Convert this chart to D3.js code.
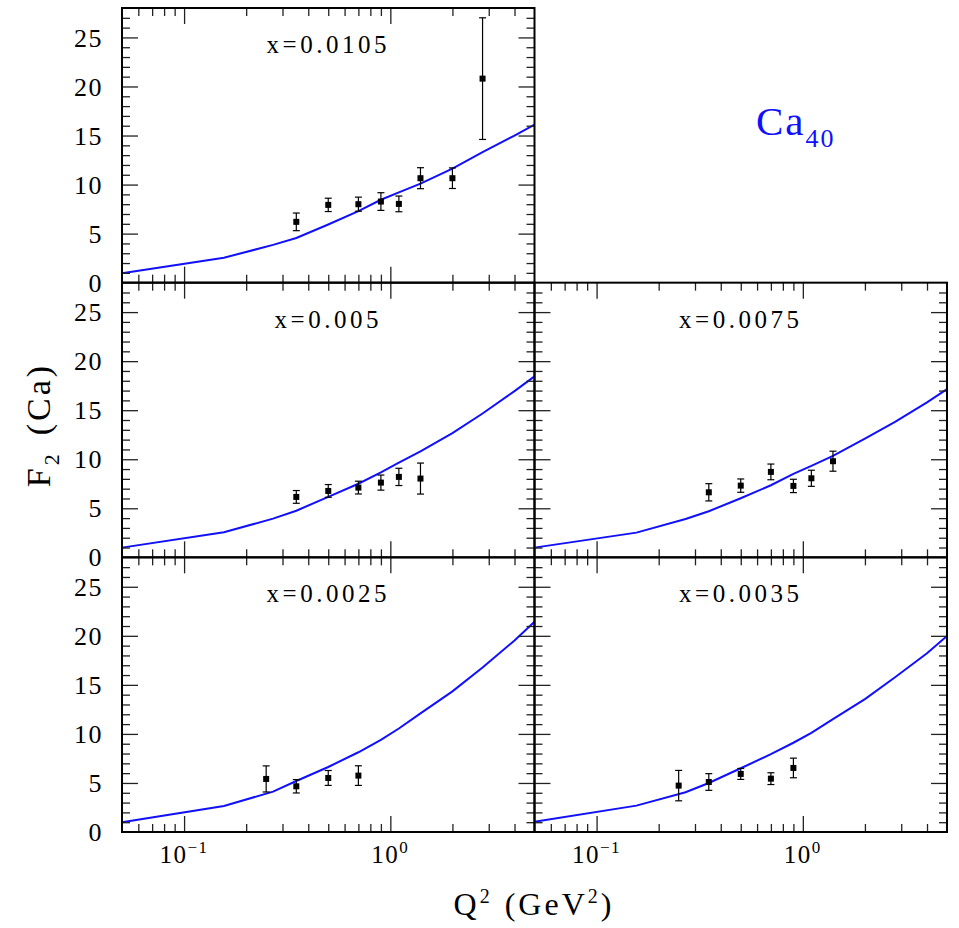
<!DOCTYPE html>
<html>
<head>
<meta charset="utf-8">
<script src="https://cdn.jsdelivr.net/npm/d3@7"></script>
<style>
  body { margin: 0; background: #fff; }
  svg { display: block; }
  text { font-family: "Liberation Serif", serif; fill: #000; }
</style>
</head>
<body>
<svg id="chart"></svg>
<script>
// Q2 points the model curves were read at
let curveQ2 = [0.05, 0.156, 0.27, 0.35, 0.5, 0.7, 0.9, 1.1, 1.4, 2.0, 2.8, 4.0, 5.0]

// x = 0.0105
let q2_0105 = [0.35, 0.5, 0.7, 0.9, 1.1, 1.4, 2.0, 2.8]
let f2_0105 = [6.2, 7.93, 8.0, 8.27, 8.03, 10.65, 10.65, 20.8]
let err_0105 = [0.9, 0.68, 0.72, 0.9, 0.8, 1.07, 1.05, 6.2]
let fit_0105 = [0.95, 2.54, 3.85, 4.55, 5.93, 7.29, 8.45, 9.2, 10.1, 11.63, 13.3, 15.0, 16.1]

// x = 0.005
let q2_005 = [0.35, 0.5, 0.7, 0.9, 1.1, 1.4]
let f2_005 = [6.16, 6.77, 7.11, 7.62, 8.2, 8.03]
let err_005 = [0.65, 0.65, 0.65, 0.77, 0.88, 1.58]
let fit_005 = [0.99, 2.55, 3.95, 4.75, 6.16, 7.5, 8.65, 9.65, 10.8, 12.67, 14.66, 16.95, 18.45]

// x = 0.0075
let q2_0075 = [0.35, 0.5, 0.7, 0.9, 1.1, 1.4]
let f2_0075 = [6.63, 7.31, 8.71, 7.28, 8.06, 9.8]
let err_0075 = [0.88, 0.68, 0.8, 0.68, 0.82, 1.02]
let fit_0075 = [0.99, 2.52, 3.91, 4.7, 6.02, 7.35, 8.5, 9.32, 10.34, 12.1, 13.8, 15.8, 17.14]

// x = 0.0025
let q2_0025 = [0.25, 0.35, 0.5, 0.7]
let f2_0025 = [5.41, 4.66, 5.51, 5.75]
let err_0025 = [1.33, 0.68, 0.76, 1.0]
let fit_0025 = [0.99, 2.65, 4.12, 5.2, 6.63, 8.13, 9.4, 10.55, 12.1, 14.34, 16.77, 19.53, 21.44]

// x = 0.0035
let q2_0035 = [0.25, 0.35, 0.5, 0.7, 0.9]
let f2_0035 = [4.73, 5.1, 5.92, 5.44, 6.53]
let err_0035 = [1.55, 0.85, 0.56, 0.6, 1.0]
let fit_0035 = [1.05, 2.69, 4.05, 5.0, 6.5, 7.93, 9.1, 10.1, 11.5, 13.55, 15.78, 18.23, 19.98]

let yLabels = [0, 5, 10, 15, 20, 25]
let xLabels = [0.1, 1]

let panels = [
  { name: 'x=0.0105', q2: q2_0105, f2: f2_0105, err: err_0105, fit: fit_0105, col: 0, row: 0 },
  { name: 'x=0.005', q2: q2_005, f2: f2_005, err: err_005, fit: fit_005, col: 0, row: 1 },
  { name: 'x=0.0075', q2: q2_0075, f2: f2_0075, err: err_0075, fit: fit_0075, col: 1, row: 1 },
  { name: 'x=0.0025', q2: q2_0025, f2: f2_0025, err: err_0025, fit: fit_0025, col: 0, row: 2 },
  { name: 'x=0.0035', q2: q2_0035, f2: f2_0035, err: err_0035, fit: fit_0035, col: 1, row: 2 }
]

let width = 959
let height = 928
let marginLeft = 122
let marginTop = 8
let pw = 412.5
let ph = 274.67

let svg = d3.select('#chart')
  .attr('width', width)
  .attr('height', height)

let x = d3.scaleLog().domain([0.05, 5]).range([0, pw])
let y = d3.scaleLinear().domain([0, 28]).range([ph, 0])

let majorX = [0.1, 1]
let minorX = [0.06, 0.07, 0.08, 0.09, 0.2, 0.3, 0.4, 0.5, 0.6, 0.7, 0.8, 0.9, 2, 3, 4]
let majorY = d3.range(5, 28, 5)
let minorY = d3.range(1, 28).filter((v) => v % 5 !== 0)

let line = d3.line()
  .x((d) => x(d[0]))
  .y((d) => y(d[1]))

function ticks (g, axis, values, size) {
  g.call(axis.tickValues(values).tickSize(-size).tickFormat(''))
  g.select('.domain').remove()
  g.selectAll('.tick line').attr('stroke', '#222').attr('stroke-width', 1.3)
}

panels.forEach((p) => {
  let g = svg.append('g')
    .attr('transform', `translate(${marginLeft + p.col * pw},${marginTop + p.row * ph})`)

  g.append('path')
    .datum(curveQ2.map((q, i) => [q, p.fit[i]]))
    .attr('d', line)
    .attr('fill', 'none')
    .attr('stroke', '#1010ff')
    .attr('stroke-width', 2)

  let pts = p.q2.map((q, i) => ({ q: q, f: p.f2[i], e: p.err[i] }))
  let bars = g.selectAll('.pt')
    .data(pts)
    .enter()
    .append('g')
    .attr('class', 'pt')
  bars.append('line')
    .attr('x1', (d) => x(d.q)).attr('x2', (d) => x(d.q))
    .attr('y1', (d) => y(d.f + d.e)).attr('y2', (d) => y(d.f - d.e))
  bars.append('line')
    .attr('x1', (d) => x(d.q) - 3.5).attr('x2', (d) => x(d.q) + 3.5)
    .attr('y1', (d) => y(d.f + d.e)).attr('y2', (d) => y(d.f + d.e))
  bars.append('line')
    .attr('x1', (d) => x(d.q) - 3.5).attr('x2', (d) => x(d.q) + 3.5)
    .attr('y1', (d) => y(d.f - d.e)).attr('y2', (d) => y(d.f - d.e))
  bars.selectAll('line').attr('stroke', '#000').attr('stroke-width', 1.2)
  bars.append('rect')
    .attr('x', (d) => x(d.q) - 3)
    .attr('y', (d) => y(d.f) - 3)
    .attr('width', 6)
    .attr('height', 6)
    .attr('fill', '#000')

  // inward ticks on all four sides
  ticks(g.append('g').attr('transform', `translate(0,${ph})`), d3.axisBottom(x), minorX, 8)
  ticks(g.append('g').attr('transform', `translate(0,${ph})`), d3.axisBottom(x), majorX, 16)
  ticks(g.append('g'), d3.axisTop(x), minorX, 8)
  ticks(g.append('g'), d3.axisTop(x), majorX, 16)
  ticks(g.append('g'), d3.axisLeft(y), minorY, 8)
  ticks(g.append('g'), d3.axisLeft(y), majorY, 16)
  ticks(g.append('g').attr('transform', `translate(${pw},0)`), d3.axisRight(y), minorY, 8)
  ticks(g.append('g').attr('transform', `translate(${pw},0)`), d3.axisRight(y), majorY, 16)

  g.append('rect')
    .attr('width', pw)
    .attr('height', ph)
    .attr('fill', 'none')
    .attr('stroke', '#000')
    .attr('stroke-width', 2)

  g.append('text')
    .attr('x', pw / 2)
    .attr('y', 45)
    .attr('text-anchor', 'middle')
    .attr('font-size', 25)
    .attr('letter-spacing', 3.5)
    .text(p.name)

  if (p.col === 0) {
    g.selectAll('.ylab')
      .data(yLabels)
      .enter()
      .append('text')
      .attr('class', 'ylab')
      .attr('x', -19)
      .attr('y', (d) => y(d))
      .attr('dy', '0.35em')
      .attr('text-anchor', 'end')
      .attr('font-size', 26)
      .attr('letter-spacing', 1.5)
      .text((d) => d)
  }

  if (p.row === 2) {
    let xl = g.selectAll('.xlab')
      .data(xLabels)
      .enter()
      .append('text')
      .attr('class', 'xlab')
      .attr('x', (d) => x(d))
      .attr('y', ph + 31)
      .attr('text-anchor', 'middle')
      .attr('font-size', 25)
      .attr('letter-spacing', 1.5)
    xl.append('tspan').text('10')
    xl.append('tspan')
      .attr('dy', -10)
      .attr('font-size', 17)
      .text((d) => String(Math.round(Math.log10(d))).replace('-', '\u2212'))
  }
})

// axis titles
let yt = svg.append('text')
  .attr('transform', 'translate(50,425) rotate(-90)')
  .attr('text-anchor', 'middle')
  .attr('font-size', 34)
  .attr('letter-spacing', 3)
yt.append('tspan').text('F')
yt.append('tspan').attr('dy', 9).attr('font-size', 22).text('2')
yt.append('tspan').attr('dy', -9).attr('dx', 16).text('(Ca)')

let xt = svg.append('text')
  .attr('x', 534)
  .attr('y', 915)
  .attr('text-anchor', 'middle')
  .attr('font-size', 32)
  .attr('letter-spacing', 3)
xt.append('tspan').text('Q')
xt.append('tspan').attr('dy', -12).attr('font-size', 20).text('2')
xt.append('tspan').attr('dy', 12).attr('dx', 12).text('(GeV')
xt.append('tspan').attr('dy', -12).attr('font-size', 20).text('2')
xt.append('tspan').attr('dy', 12).text(')')

let ca = svg.append('text')
  .attr('x', 756)
  .attr('y', 135)
  .attr('font-size', 41)
  .attr('letter-spacing', 2)
  .attr('fill', '#1010ff')
ca.append('tspan').attr('fill', '#1010ff').text('Ca')
ca.append('tspan').attr('fill', '#1010ff').attr('dy', 12).attr('font-size', 26).text('40')
</script>
</body>
</html>
